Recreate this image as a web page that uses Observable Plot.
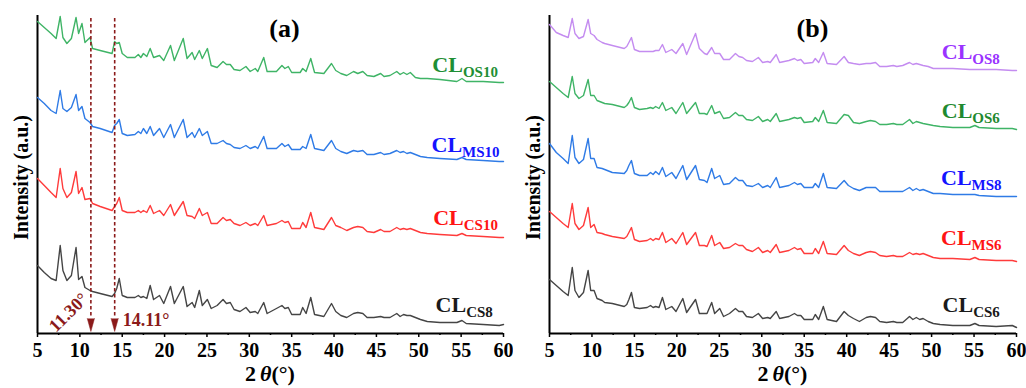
<!DOCTYPE html>
<html><head><meta charset="utf-8">
<script src="https://cdn.jsdelivr.net/npm/d3@7"></script>
<script src="https://cdn.jsdelivr.net/npm/@observablehq/plot@0.6"></script>
<style>
body{margin:0;background:#fff;}
#wrap{display:flex;width:1026px;height:388px;overflow:hidden;}
</style></head><body><div id="wrap"></div>
<script>
// 2θ positions (degrees) where each pattern was read
const twoTheta = [5.0,5.8,6.6,7.2,7.68,8.0,8.47,9.0,9.55,9.85,
10.25,10.6,11.2,11.5,12.4,13.8,14.1,14.35,14.65,15.0,
15.6,16.5,16.9,17.2,17.5,17.9,18.3,18.7,19.4,19.9,
20.7,21.15,22.2,22.65,23.25,23.55,24.1,24.45,25.05,25.5,
26.2,26.9,27.3,27.75,28.2,28.9,29.6,30.1,30.7,31.0,
31.7,32.1,33.2,33.85,34.2,34.6,35.0,36.0,36.3,36.7,
37.25,37.7,38.8,39.7,40.2,40.8,41.5,42.3,42.8,43.4,
43.9,44.7,45.5,45.9,46.6,47.4,47.8,48.2,48.6,49.0,
49.6,50.2,51.0,52.5,54.5,55.1,55.6,57.6,59.5,60.0];

// Panel (a) intensities (offset, a.u.)
const CL_OS10 = [312,306,300,295,317,296,290,295,316,300,310,291,296,285,283,280,292,290,291,280,276,276,279,276,280,277,285,276,278,273,288,273,295,275,281,274,283,275,285,268,266,272,269,269,264,263,267,262,265,262,276,262,262,268,265,267,261,261,265,262,275,261,260,270,263,260,258,262,260,262,258,257,260,257,258,262,259,261,259,261,256,255,255,254,252,255,252,252,251,251];
const CL_MS10 = [236,230,223,220,243,225,222,226,239,223,227,215,211,207,205,201,208,210,214,200,198,199,202,200,205,200,207,198,205,196,209,196,214,196,201,196,205,198,202,190,190,193,190,189,186,185,188,185,187,185,197,185,185,190,187,189,184,184,187,185,199,185,183,193,185,182,180,183,182,183,179,179,181,179,180,183,181,182,180,181,179,177,176,175,174,176,174,173,172,172];
const CL_CS10 = [155,148,141,136,165,145,136,141,162,140,146,134,135,130,127,123,127,130,136,123,121,121,123,121,123,121,128,120,123,118,129,118,132,118,117,115,125,118,121,110,110,116,113,114,110,108,111,108,110,108,118,108,110,113,111,112,105,105,111,106,121,106,104,116,108,106,103,106,107,106,102,101,104,102,102,106,104,105,104,105,103,101,100,99,98,100,98,97,96,96];
const CL_CS8 = [68,61,55,53,88,63,53,58,86,54,57,46,43,42,40,37,40,45,55,38,36,36,38,36,37,35,48,34,38,30,47,30,47,27,31,26,43,28,34,25,28,34,30,31,24,22,26,21,22,20,31,20,25,28,25,26,19,19,26,20,36,19,17,30,22,18,16,20,21,20,16,16,17,16,16,20,17,19,18,18,16,14,12,11,11,13,10,9,8,9];

// Panel (b) intensities (offset, a.u.)
const CL_OS8 = [309,301,298,296,315,300,295,297,314,300,298,294,291,290,288,285,287,291,296,284,282,282,282,282,283,283,289,281,284,280,290,279,300,285,280,279,286,280,280,274,274,280,277,276,273,272,276,271,272,271,279,271,273,275,273,274,270,271,275,271,281,270,269,277,271,270,269,270,270,271,267,267,268,267,268,271,269,270,269,268,267,265,265,265,264,264,264,264,263,263];
const CL_OS6 = [252,246,240,236,257,240,235,238,254,238,238,233,231,230,229,226,228,231,236,226,224,225,226,225,227,225,231,223,226,220,231,220,231,220,220,219,228,220,222,215,216,221,218,218,214,213,217,212,214,212,220,212,214,216,215,216,211,212,216,212,223,211,210,219,218,211,210,212,213,212,209,209,210,209,209,214,210,212,211,210,209,208,207,206,206,208,206,205,205,204];
const CL_MS8 = [190,181,175,170,198,176,170,174,195,175,175,166,165,164,161,160,163,168,173,160,158,158,161,159,162,159,166,157,161,155,168,154,168,154,153,151,165,155,158,149,150,156,153,153,148,147,150,146,148,146,156,146,148,151,149,150,146,146,150,146,160,146,145,153,148,145,143,146,146,146,142,142,142,142,142,146,143,145,143,144,142,140,140,139,139,139,138,137,137,137];
const CL_MS6 = [122,116,110,106,130,110,104,108,126,106,109,101,100,99,97,95,97,101,106,94,92,93,95,93,95,94,101,91,95,90,101,89,101,88,88,87,98,88,91,85,86,90,88,88,84,82,86,81,83,81,89,81,83,86,84,85,80,80,85,80,92,80,79,88,83,80,78,81,82,81,78,77,78,77,77,81,79,80,79,80,78,76,75,75,74,76,74,73,73,72];
const CL_CS6 = [54,48,42,38,66,43,36,41,63,43,43,35,33,31,30,27,29,34,41,26,25,26,28,26,27,26,36,24,27,22,35,21,34,20,20,20,31,20,25,17,20,25,22,22,17,16,20,15,16,15,22,15,17,20,18,18,14,14,19,14,27,14,12,22,18,15,12,16,17,16,12,11,12,11,11,17,14,16,14,15,12,10,9,8,8,10,8,7,8,6];

const xTicks = [5,10,15,20,25,30,35,40,45,50,55,60];
const xMinorTicks = [7.5,12.5,17.5,22.5,27.5,32.5,37.5,42.5,47.5,52.5,57.5];
const markerAngles = [11.30, 14.11];
const markerLabels = ["11.30°", "14.11°"];
const seriesNamesA = ["OS10","MS10","CS10","CS8"];
const seriesNamesB = ["OS8","OS6","MS8","MS6","CS6"];

// ---- styling / layout ----
const SERIF = "'Liberation Serif','Times New Roman',serif";
const DARKRED = "#8b1a1a";
const styles = {
  OS10:{line:"#3fb466", text:"#1f8f35", lx:59.4, ly:261},
  MS10:{line:"#2f7be6", text:"#1414ff", lx:59.6, ly:181},
  CS10:{line:"#ff3b3b", text:"#ff1414", lx:59.4, ly:108},
  CS8:{line:"#454545", text:"#1a1a1a", lx:58.8, ly:21},
  OS8:{line:"#c48cf0", text:"#9a33ff", lx:58.1, ly:274},
  OS6:{line:"#3fb466", text:"#1f8a30", lx:58.1, ly:215},
  MS8:{line:"#2f7be6", text:"#1414ff", lx:58.3, ly:148},
  MS6:{line:"#ff3b3b", text:"#ff1414", lx:58.3, ly:88},
  CS6:{line:"#454545", text:"#1a1a1a", lx:58.1, ly:21}
};
const valuesByName = {OS10:CL_OS10, MS10:CL_MS10, CS10:CL_CS10, CS8:CL_CS8,
  OS8:CL_OS8, OS6:CL_OS6, MS8:CL_MS8, MS6:CL_MS6, CS6:CL_CS6};

function rows(values){ return twoTheta.map((t,i)=>({t, I: values[i]})); }

function panel({names, title, titleX, marginLeft, markers}){
  const marks = [
    Plot.ruleY([0], {stroke:"#000", strokeWidth:2}),
    Plot.ruleX([5], {y1:0, y2:318, stroke:"#000", strokeWidth:2}),
    Plot.axisX(xTicks, {tickSize:4, tickPadding:5, fontSize:20, fontWeight:"bold",
      tickFormat:d=>String(d), stroke:"#000", strokeWidth:1.5, label:null}),
    Plot.axisX(xMinorTicks, {tickSize:2, tickFormat:()=>"", stroke:"#000", strokeWidth:1.5, label:null}),
    ...names.map(n => Plot.line(rows(valuesByName[n]), {x:"t", y:"I", stroke:styles[n].line, strokeWidth:1.4})),
    Plot.text(["Intensity (a.u.)"], {frameAnchor:"left", textAnchor:"middle", dx:-16, dy:4, rotate:-90, fontSize:20, fontWeight:"bold", fill:"#000"}),
    Plot.text([title], {x:titleX, y:305, fontSize:26, fontWeight:"bold", fill:"#000"})
  ];
  if (markers){
    marks.push(
      Plot.ruleX(markerAngles, {y1:315, y2:15, stroke:DARKRED, strokeWidth:1.6, strokeDasharray:"3.5,2.5"}),
      Plot.vector(markerAngles, {x:d=>d, y:15, length:13, r:3.6, shape:"spike", rotate:180, anchor:"start", fill:DARKRED, stroke:DARKRED, strokeWidth:0.5}),
      Plot.text([markerLabels[0]], {x:8.66, y:21, rotate:-45, fontSize:18, fontWeight:"bold", fill:DARKRED}),
      Plot.text([markerLabels[1]], {x:15.05, y:13, textAnchor:"start", fontSize:18, fontWeight:"bold", fill:DARKRED})
    );
  }
  const plot = Plot.plot({
    width:513, height:388,
    marginLeft, marginRight:10, marginTop:13, marginBottom:55,
    x:{domain:[5,60], label:null},
    y:{domain:[0,320], axis:null, label:null},
    style:{fontFamily:SERIF, fontWeight:"bold", fontSize:"20px", background:"#fff", color:"#000", overflow:"visible"},
    marks
  });
  const svg = d3.select(plot);
  const sx = plot.scale("x"), sy = plot.scale("y");
  names.forEach(n => {
    const s = styles[n];
    const t = svg.append("text")
      .attr("x", sx.apply(s.lx)).attr("y", sy.apply(s.ly))
      .attr("text-anchor","end").attr("fill", s.text)
      .style("font-family", SERIF).style("font-weight","bold").style("font-size","22px");
    t.append("tspan").text("CL");
    t.append("tspan").attr("dy",5).style("font-size","15px").text(n);
  });
  const xl = svg.append("text")
    .attr("x", (sx.apply(5)+sx.apply(60))/2).attr("y", 381)
    .attr("text-anchor","middle").attr("fill","#000")
    .style("font-family", SERIF).style("font-weight","bold").style("font-size","22px");
  xl.append("tspan").text("2");
  xl.append("tspan").attr("dx",4).style("font-style","italic").text("θ");
  xl.append("tspan").text("(°)");
  return plot;
}

const wrap = document.getElementById("wrap");
wrap.appendChild(panel({names:seriesNamesA, title:"(a)", titleX:34.15, marginLeft:37, markers:true}));
wrap.appendChild(panel({names:seriesNamesB, title:"(b)", titleX:35.97, marginLeft:36, markers:false}));
</script>
</body></html>
